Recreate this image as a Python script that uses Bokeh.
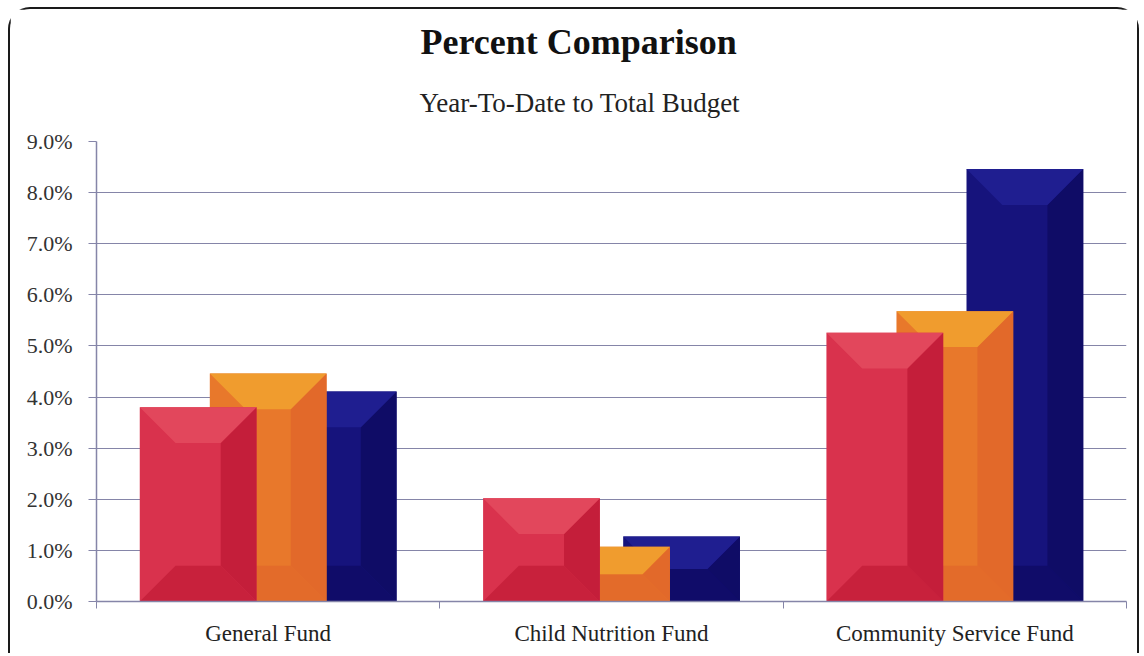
from bokeh.plotting import figure
from bokeh.models import FixedTicker, PrintfTickFormatter, Title, Range1d
from bokeh.embed import file_html
from bokeh.resources import INLINE

# ---- data ----
categories = ["General Fund", "Child Nutrition Fund", "Community Service Fund"]
series_names = ["Series A", "Series B", "Series C"]
values_a = [3.80, 2.02, 5.26]   # red
values_b = [4.46, 1.07, 5.68]   # orange
values_c = [4.11, 1.27, 8.46]   # navy
y_ticks = [0, 1, 2, 3, 4, 5, 6, 7, 8, 9]

# ---- style ----
SERIF = "Liberation Serif"
W, H = 1131, 646
ML, MR, MT, MB = 86, 15, 132, 54
FRAME_W = W - ML - MR
FRAME_H = H - MT - MB
YMAX = 9.0
px_per_x = FRAME_W / 3.0
px_per_y = FRAME_H / YMAX

colors = {
    "a": ("#D9324D", "#E2475C", "#C41E3A"),
    "b": ("#E8782B", "#F09C2E", "#E2692A"),
    "c": ("#16137C", "#1F1E90", "#0F0C66"),
}

p = figure(width=W, height=H, output_backend="svg", toolbar_location=None, title=None,
           x_range=Range1d(0, 3), y_range=Range1d(0, YMAX),
           min_border_left=ML, min_border_right=MR, min_border_top=MT, min_border_bottom=MB,
           background_fill_color="white", border_fill_color="white")
p.outline_line_color = None
p.styles = {"margin-left": "8px", "margin-top": "7px",
            "border-left": "2px solid #1a1a1a", "border-top": "2px solid #1a1a1a",
            "border-right": "2px solid #1a1a1a", "border-radius": "22px 22px 0 0"}

bar_w = 0.34
offsets = {"a": -0.204, "b": 0.0, "c": 0.204}
series = {"a": values_a, "b": values_b, "c": values_c}

# draw back to front: navy, orange, red
for key in ["c", "b", "a"]:
    base, light, dark = colors[key]
    top_xs, top_ys, right_xs, right_ys, bot_xs, bot_ys, body_xs, body_ys = ([] for _ in range(8))
    for i, v in enumerate(series[key]):
        xc = i + 0.5 + offsets[key]
        x0, x1 = xc - bar_w / 2, xc + bar_w / 2
        iy = min(0.70, v / 2.0)
        ix = iy * px_per_y / px_per_x
        body_xs.append([x0, x1, x1, x0]); body_ys.append([0, 0, v, v])
        top_xs.append([x0, x1, x1 - ix, x0 + ix]); top_ys.append([v, v, v - iy, v - iy])
        right_xs.append([x1, x1, x1 - ix, x1 - ix]); right_ys.append([v, 0, iy, v - iy])
        bot_xs.append([x0, x1, x1 - ix, x0 + ix]); bot_ys.append([0, 0, iy, iy])
    p.patches(body_xs, body_ys, fill_color=base, line_color=None)
    p.patches(bot_xs, bot_ys, fill_color=dark, line_color=None, fill_alpha=0.85)
    p.patches(right_xs, right_ys, fill_color=dark, line_color=None)
    p.patches(top_xs, top_ys, fill_color=light, line_color=None)

# ---- axes ----
grid_col = "#8585A8"
p.xgrid.grid_line_color = None
p.ygrid.grid_line_color = grid_col
p.ygrid.grid_line_width = 1.2
p.ygrid.ticker = FixedTicker(ticks=y_ticks)

yax = p.yaxis[0]
yax.ticker = FixedTicker(ticks=y_ticks, minor_ticks=[])
yax.formatter = PrintfTickFormatter(format="%.1f%%")
yax.axis_line_color = grid_col
yax.axis_line_width = 1.5
yax.major_tick_line_color = grid_col
yax.major_tick_out = 8
yax.major_tick_in = 0
yax.minor_tick_line_color = None
yax.major_label_text_font = SERIF
yax.major_label_text_font_size = "22px"
yax.major_label_text_color = "#333333"
yax.major_label_standoff = 16

xax = p.xaxis[0]
xax.ticker = FixedTicker(ticks=[0.5, 1.5, 2.5], minor_ticks=[0, 1, 2, 3])
xax.major_label_overrides = {0.5: categories[0], 1.5: categories[1], 2.5: categories[2]}
xax.axis_line_color = grid_col
xax.axis_line_width = 1.5
xax.major_tick_line_color = None
xax.minor_tick_line_color = grid_col
xax.minor_tick_out = 7
xax.minor_tick_in = 0
xax.major_label_text_font = SERIF
xax.major_label_text_font_size = "23px"
xax.major_label_text_color = "#222222"
xax.major_label_standoff = 12

# ---- titles: subtitle first (nearest the frame), then main title ----
p.add_layout(Title(text="Year-To-Date to Total Budget", align="left", offset=323,
                   text_font=SERIF, text_font_size="27px", text_font_style="normal",
                   text_color="#222222", standoff=48), "above")
p.add_layout(Title(text="Percent Comparison", align="left", offset=324,
                   text_font=SERIF, text_font_size="36px", text_font_style="bold",
                   text_color="#111111", standoff=0), "above")

open("out.html", "w").write(file_html(p, INLINE))
